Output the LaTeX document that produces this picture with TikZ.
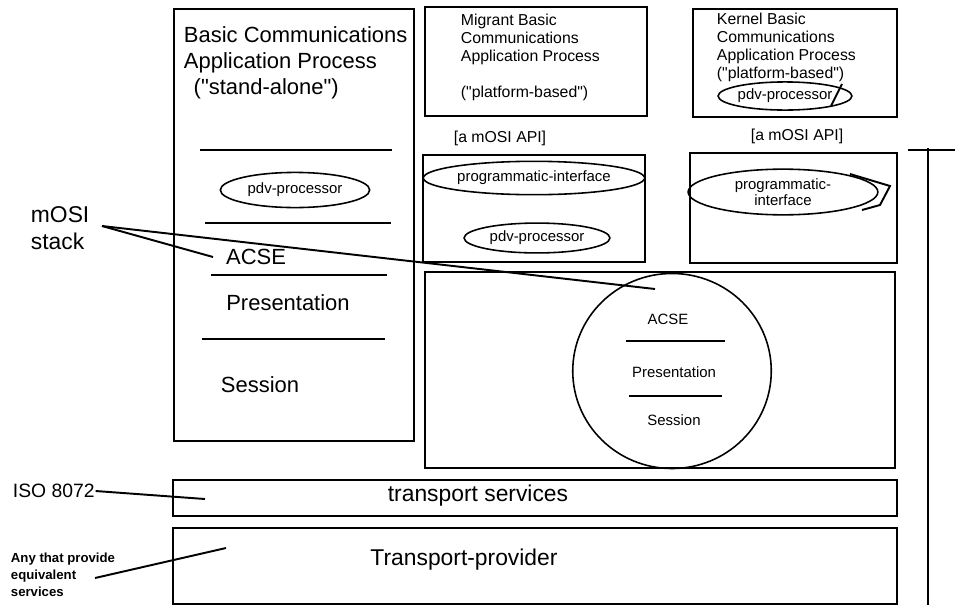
\documentclass[tikz,border=0pt]{standalone}
\usepackage{fontspec}
\setmainfont{Liberation Sans}
\usetikzlibrary{shapes.geometric}

\begin{document}
\begin{tikzpicture}[x=0.02cm, y=-0.02cm, line width=1.1pt,
	big/.style={font=\fontsize{12.5}{14.7}\selectfont},
	small/.style={font=\fontsize{9}{10.2}\selectfont},
	oval/.style={ellipse, draw, line width=0.9pt, inner sep=0pt, font=\fontsize{8.5}{7}\selectfont}]
	\useasboundingbox (0,0) rectangle (955,605);

	\draw (174,9) rectangle (414,441);
	\node[big, align=left, anchor=north west, inner sep=0pt] (bcap) at (183,26) {Basic Communications\\Application Process\\\ \,(\textquotedbl stand-alone\textquotedbl)};
	\draw (200,150) -- (392,150);
	\node[oval, minimum width=85pt, minimum height=20pt] (pdv1) at (295,190) {pdv-processor};
	\draw (205,223) -- (391,223);
	\node[big] (acse1) at (256,257) {ACSE};
	\draw (211,275) -- (387,275);
	\node[big] (pres1) at (288,303) {Presentation};
	\draw (202,339) -- (385,339);
	\node[big] (sess1) at (260,385) {Session};

	\draw (425,7) rectangle (647,116);
	\node[small, align=left, anchor=north west, inner sep=0pt] (mbcap) at (460,13) {Migrant Basic\\Communications\\Application Process\\[10.2pt](\textquotedbl platform-based\textquotedbl)};
	\node[small] (api1) at (500,138) {[a mOSI API]};

	\draw (693,9) rectangle (897,117);
	\node[small, align=left, anchor=north west, inner sep=0pt] (kbcap) at (716,12) {Kernel Basic\\Communications\\Application Process\\(\textquotedbl platform-based\textquotedbl)};
	\node[oval, minimum width=68pt, minimum height=16pt] (pdv3) at (785,96) {pdv-processor};
	\draw (842,84) -- (831,106);
	\node[small] (api2) at (797,136) {[a mOSI API]};

	\draw (423,155) rectangle (645,262);
	\node[oval, minimum width=126pt, minimum height=19pt] (pi1) at (534,178) {programmatic-interface};
	\node[oval, minimum width=83pt, minimum height=17pt] (pdv2) at (537,238) {pdv-processor};
	\draw (690,153) rectangle (897,263);
	\node[oval, align=center, minimum width=108pt, minimum height=26pt] (pi2) at (783,192) {programmatic-\\interface};
	\draw (850,174) -- (890,186) -- (880,205) -- (862,210);

	\draw (425,272) rectangle (895,468);
	\node[ellipse, draw, line width=0.9pt, minimum width=113pt, minimum height=111pt] (stack) at (672,371) {};
	\node[font=\fontsize{8.5}{9}\selectfont] (acse2) at (668,319) {ACSE};
	\draw (626,341) -- (725,341);
	\node[font=\fontsize{8.5}{9}\selectfont] (pres2) at (674,372) {Presentation};
	\draw (629,396) -- (722,396);
	\node[font=\fontsize{8.5}{9}\selectfont] (sess2) at (674,420) {Session};

	\draw (173,480) rectangle (897,516);
	\node[font=\fontsize{13}{15}\selectfont] (ts) at (478,496) {transport services};
	\draw (173,528) rectangle (897,604);
	\node[font=\fontsize{13}{15}\selectfont] (tp) at (464,560) {Transport-provider};

	\draw (928,148) -- (928,605);
	\draw (908,150) -- (955,150);

	\node[font=\fontsize{13}{15}\selectfont, align=left, anchor=west, inner sep=0pt] (mosi) at (30,228) {mOSI\\stack};
	\coordinate (m0) at (102,226);
	\coordinate (acsetip) at (213,257);
	\coordinate (stacktip) at (655,289);
	\draw (m0) -- (acsetip);
	\draw (m0) -- (stacktip);

	\node[font=\fontsize{11}{13}\selectfont, anchor=west, inner sep=0pt] (iso) at (12,491) {ISO 8072};
	\coordinate (tstip) at (205,499);
	\draw (iso.east) -- (tstip);

	\node[font=\bfseries\fontsize{7.5}{9.6}\selectfont, align=left, anchor=west, inner sep=0pt] (equiv) at (10,575) {Any that provide\\equivalent\\services};
	\coordinate (e0) at (95,578);
	\coordinate (tptip) at (226,548);
	\draw (e0) -- (tptip);
\end{tikzpicture}
\end{document}
